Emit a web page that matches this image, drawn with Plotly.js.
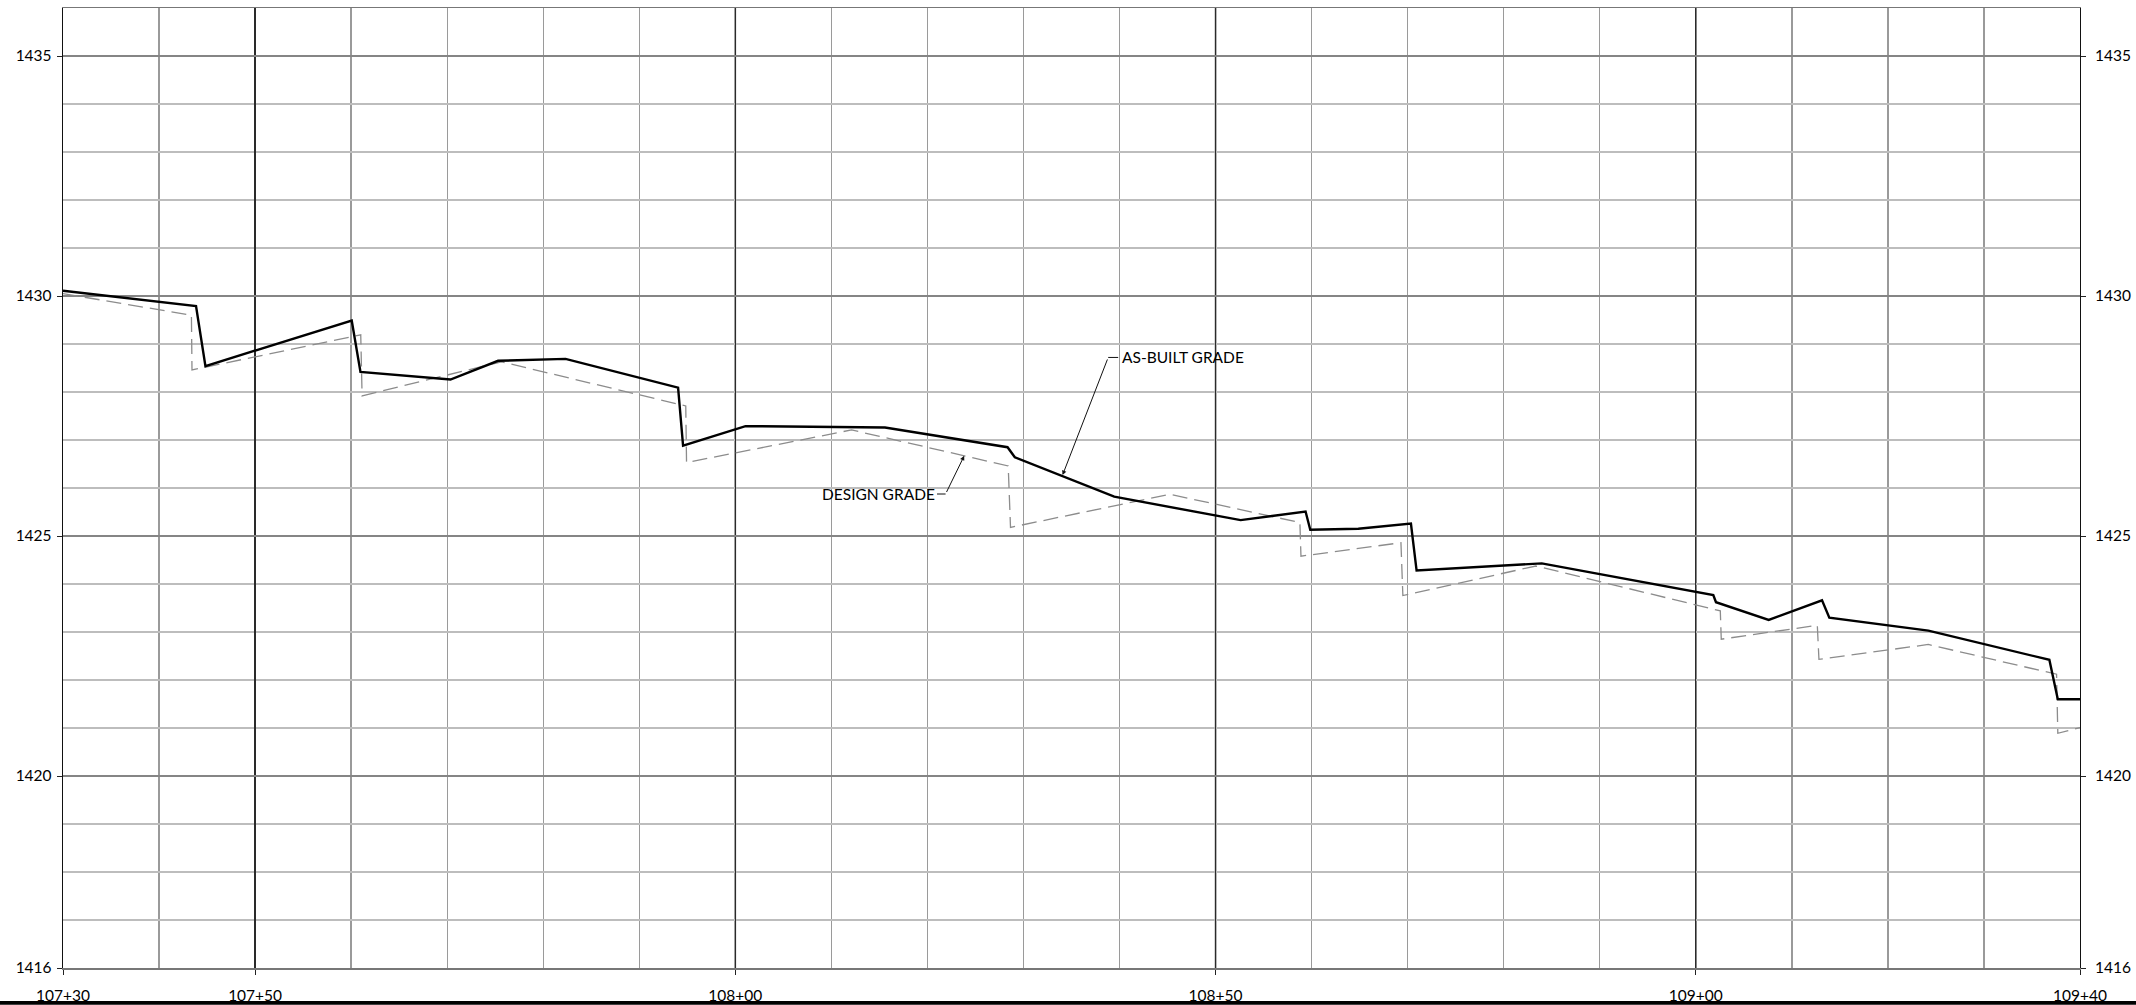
<!DOCTYPE html>
<html>
<head>
<meta charset="utf-8">
<script src="https://cdn.plot.ly/plotly-3.0.1.min.js"></script>
<style>html,body{margin:0;padding:0;background:#fff;}#chart{width:2136px;height:1005px;}</style>
</head>
<body>
<div id="chart"></div>
<script>
// Stations in feet (107+30 = 10730)
const asBuiltStation = [10730, 10743.85, 10744.83, 10760.06, 10760.97, 10770.34, 10775.30, 10782.32, 10794.04, 10794.56, 10801.06, 10815.58, 10828.34, 10829.10, 10839.45, 10852.61, 10859.37, 10859.86, 10864.86, 10870.34, 10870.93, 10883.96, 10901.82, 10902.10, 10907.59, 10913.14, 10913.90, 10924.21, 10936.81, 10937.69, 10940];
const asBuiltElev = [1430.11, 1429.79, 1428.54, 1429.49, 1428.42, 1428.26, 1428.65, 1428.69, 1428.09, 1426.88, 1427.29, 1427.26, 1426.85, 1426.64, 1425.82, 1425.33, 1425.51, 1425.13, 1425.15, 1425.26, 1424.28, 1424.43, 1423.77, 1423.62, 1423.25, 1423.66, 1423.30, 1423.03, 1422.42, 1421.60, 1421.60];

const designStation = [10730, 10743.37, 10743.43, 10761.00, 10761.14, 10775.65, 10794.84, 10794.92, 10812.10, 10828.41, 10828.65, 10845.25, 10858.78, 10858.89, 10869.30, 10869.50, 10883.35, 10902.55, 10902.65, 10912.65, 10912.82, 10924.21, 10937.56, 10937.69, 10940];
const designElev = [1430.05, 1429.60, 1428.46, 1429.19, 1427.92, 1428.63, 1427.71, 1426.53, 1427.21, 1426.46, 1425.18, 1425.87, 1425.28, 1424.58, 1424.86, 1423.76, 1424.375, 1423.44, 1422.85, 1423.14, 1422.43, 1422.74, 1422.12, 1420.89, 1421.01];

const xTickVals = [10730, 10750, 10800, 10850, 10900, 10940];
const xTickText = ['107+30', '107+50', '108+00', '108+50', '109+00', '109+40'];
const yTickVals = [1416, 1420, 1425, 1430, 1435];
const yTickText = ['1416', '1420', '1425', '1430', '1435'];

const labelFont = {family: 'Lato, "Liberation Sans", sans-serif', size: 15.5, color: '#000000'};

const traces = [
  {x: designStation, y: designElev, type: 'scatter', mode: 'lines', name: 'DESIGN GRADE',
   line: {color: '#8c8c8c', width: 1.3, dash: '15px,7px'}, hoverinfo: 'x+y'},
  {x: asBuiltStation, y: asBuiltElev, type: 'scatter', mode: 'lines', name: 'AS-BUILT GRADE',
   line: {color: '#000000', width: 2.4}, hoverinfo: 'x+y'},
  {x: [10730], y: [1416], yaxis: 'y2', type: 'scatter', mode: 'markers', marker: {opacity: 0}, hoverinfo: 'skip', showlegend: false}
];

// darker station gridlines at the labelled interior stations
const majorStationLines = xTickVals.slice(1, -1).map(v => ({
  type: 'line', xref: 'x', yref: 'paper', x0: v, x1: v, y0: 0, y1: 1,
  line: {color: '#222222', width: 1.5}, layer: 'below'
}));

const layout = {
  width: 2136, height: 1005,
  margin: {l: 63, r: 56, t: 8, b: 37, pad: 0},
  paper_bgcolor: '#ffffff', plot_bgcolor: '#ffffff',
  showlegend: false,
  font: labelFont,
  xaxis: {
    range: [10730, 10940], tickvals: xTickVals, ticktext: xTickText,
    showgrid: true, gridcolor: '#2a2a2a', gridwidth: 1.3,
    minor: {tick0: 10730, dtick: 10, showgrid: true, gridcolor: '#9a9a9a', gridwidth: 1.3},
    showline: true, linecolor: '#777777', linewidth: 1.5, mirror: true,
    ticks: 'outside', ticklen: 5, tickcolor: '#222', tickwidth: 1,
    ticklabelstandoff: 8, tickfont: labelFont, zeroline: false, fixedrange: true, automargin: false
  },
  yaxis: {
    range: [1416, 1436], tickvals: yTickVals, ticktext: yTickText,
    showgrid: true, gridcolor: '#858585', gridwidth: 1.4,
    minor: {tick0: 1416, dtick: 1, showgrid: true, gridcolor: '#bdbdbd', gridwidth: 1.3},
    showline: true, linecolor: '#111111', linewidth: 1.3, mirror: true,
    ticks: 'outside', ticklen: 5, tickcolor: '#222', tickwidth: 1,
    ticklabelstandoff: 2, tickfont: labelFont, zeroline: false, fixedrange: true, automargin: false
  },
  yaxis2: {
    overlaying: 'y', side: 'right', range: [1416, 1436], tickvals: yTickVals, ticktext: yTickText,
    showgrid: false, showline: false, zeroline: false,
    ticks: 'outside', ticklen: 5, tickcolor: '#222', tickwidth: 1,
    ticklabelstandoff: 6, tickfont: labelFont, fixedrange: true, automargin: false
  },
  shapes: majorStationLines.concat([
    // leader stubs
    {type: 'line', xref: 'x', yref: 'y', x0: 10838.82, y0: 1428.72, x1: 10839.86, y1: 1428.72, line: {color: '#111', width: 1}},
    {type: 'line', xref: 'x', yref: 'y', x0: 10821.0, y0: 1425.875, x1: 10821.89, y1: 1425.875, line: {color: '#111', width: 1}},
    // bottom border band
    {type: 'rect', xref: 'paper', yref: 'paper', x0: -0.04, x1: 1.04, y0: -0.0382, y1: -0.0345, fillcolor: '#000', line: {width: 0}, layer: 'above'}
  ]),
  annotations: [
    {xref: 'x', yref: 'y', x: 10840.0, y: 1428.72, text: 'AS-BUILT GRADE', showarrow: false, xanchor: 'left', yanchor: 'middle', font: labelFont},
    {xref: 'x', yref: 'y', x: 10821.0, y: 1425.875, text: 'DESIGN GRADE', showarrow: false, xanchor: 'right', yanchor: 'middle', font: labelFont},
    {xref: 'x', yref: 'y', axref: 'x', ayref: 'y', x: 10834.07, y: 1426.27, ax: 10838.82, ay: 1428.72,
     text: ' ', font: {size: 1}, showarrow: true, arrowhead: 2, arrowsize: 0.9, arrowwidth: 1, arrowcolor: '#111', standoff: 0, startstandoff: 0},
    {xref: 'x', yref: 'y', axref: 'x', ayref: 'y', x: 10823.83, y: 1426.67, ax: 10821.89, ay: 1425.875,
     text: ' ', font: {size: 1}, showarrow: true, arrowhead: 2, arrowsize: 0.9, arrowwidth: 1, arrowcolor: '#111', standoff: 0, startstandoff: 0}
  ]
};

Plotly.newPlot('chart', traces, layout, {displayModeBar: false, staticPlot: true});
</script>
</body>
</html>
